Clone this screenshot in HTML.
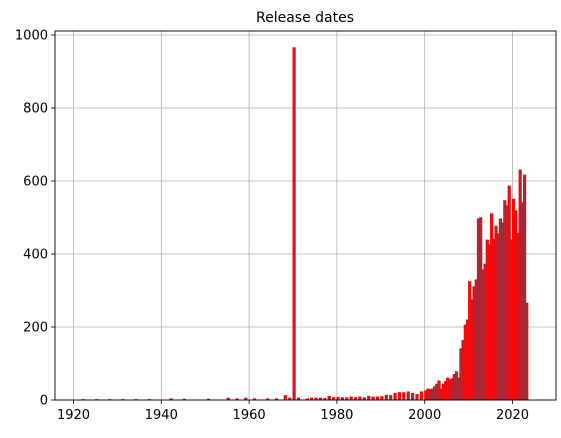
<!DOCTYPE html>
<html><head><meta charset="utf-8"><style>
body{margin:0;background:#fff}
svg text{font-family:"DejaVu Sans","Liberation Sans",sans-serif;fill:#000}
</style></head><body>
<svg id="chart" width="561" height="433" viewBox="0 0 561 433" xmlns="http://www.w3.org/2000/svg">
<text x="305" y="22" font-size="14" text-anchor="middle">Release dates</text>
<g id="grid"></g>
<g id="bars"></g>
<g id="axes"></g>
</svg>
<script>
const xTicks=[1920,1940,1960,1980,2000,2020];
const yTicks=[0,200,400,600,800,1000];
const earlyYears=[1922,1925,1928,1931,1934,1937,1942,1945,1950.5,1955,1957,1959,1961,1964,1966,1968,1969,1970,1971,1973,1974,1975,1976,1977,1978,1979,1980,1981,1982,1983,1984,1985,1986,1987,1988,1989,1990,1991,1992,1993,1994,1995,1996,1997,1998,1999];
const earlyCounts=[1,1,1,1,1,1,3,2,2,5,3,5,3,3,3,12,5,965,5,3,5,5,5,4,10,6,7,6,6,8,6,8,6,10,8,8,9,13,12,18,20,20,22,18,15,22];
const denseYears=[2000,2000.5,2001,2001.5,2002,2002.5,2003,2003.5,2004,2004.5,2005,2005.5,2006,2006.5,2007,2007.5,2008,2008.5,2009,2009.5,2010,2010.5,2011,2011.5,2012,2012.5,2013,2013.5,2014,2014.5,2015,2015.5,2016,2016.5,2017,2017.5,2018,2018.5,2019,2019.5,2020,2020.5,2021,2021.5,2022,2022.5,2023];
const denseCounts=[25,30,28,30,36,43,52,30,43,50,60,55,58,70,77,60,140,163,205,219,324,274,310,329,496,499,356,372,438,425,510,440,476,455,496,485,546,532,586,438,550,518,457,630,540,616,265];
const binWidth=0.5;
const L=55,R=556,T=31,B=400;
const xs=y=>73.5+(y-1920)*4.39;
const ys=v=>B-v*0.365;
const NS="http://www.w3.org/2000/svg";
function mk(t,a,p){const e=document.createElementNS(NS,t);for(const k in a)e.setAttribute(k,a[k]);p.appendChild(e);return e;}
const grid=document.getElementById('grid'),bars=document.getElementById('bars'),axes=document.getElementById('axes');
xTicks.forEach(t=>{
  const g=mk('line',{x1:xs(t),x2:xs(t),y1:T,y2:B,stroke:'#b0b0b0','stroke-width':0.8},grid);
  
  
  const k=mk('line',{x1:xs(t),x2:xs(t),y1:B,y2:B+4,stroke:'#000','stroke-width':0.8},axes);
  
  
  const tx=mk('text',{x:xs(t),y:B+19,'font-size':13,'text-anchor':'middle'},axes);
  tx.textContent=t;
  
  
});
yTicks.forEach(t=>{
  const g=mk('line',{x1:L,x2:R,y1:ys(t),y2:ys(t),stroke:'#b0b0b0','stroke-width':0.8},grid);
  
  
  const k=mk('line',{x1:L-4,x2:L,y1:ys(t),y2:ys(t),stroke:'#000','stroke-width':0.8},axes);
  
  
  const tx=mk('text',{x:L-7,y:ys(t)+4.5,'font-size':13,'text-anchor':'end'},axes);
  tx.textContent=t;
  
  
});
function drawBars(years,counts){
  years.forEach((y,i)=>{
    const x0=xs(y),w=binWidth*4.39,h=B-ys(counts[i]);
    const r=mk('rect',{x:x0,y:ys(counts[i]),width:w,height:h,fill:'#a03040',stroke:'#ff0000','stroke-width':1},bars);
    
    
  });
}
drawBars(earlyYears,earlyCounts);
drawBars(denseYears,denseCounts);
const f=mk('rect',{x:L,y:T,width:R-L,height:B-T,fill:'none',stroke:'#000','stroke-width':0.9},axes);


</script>
</body></html>
